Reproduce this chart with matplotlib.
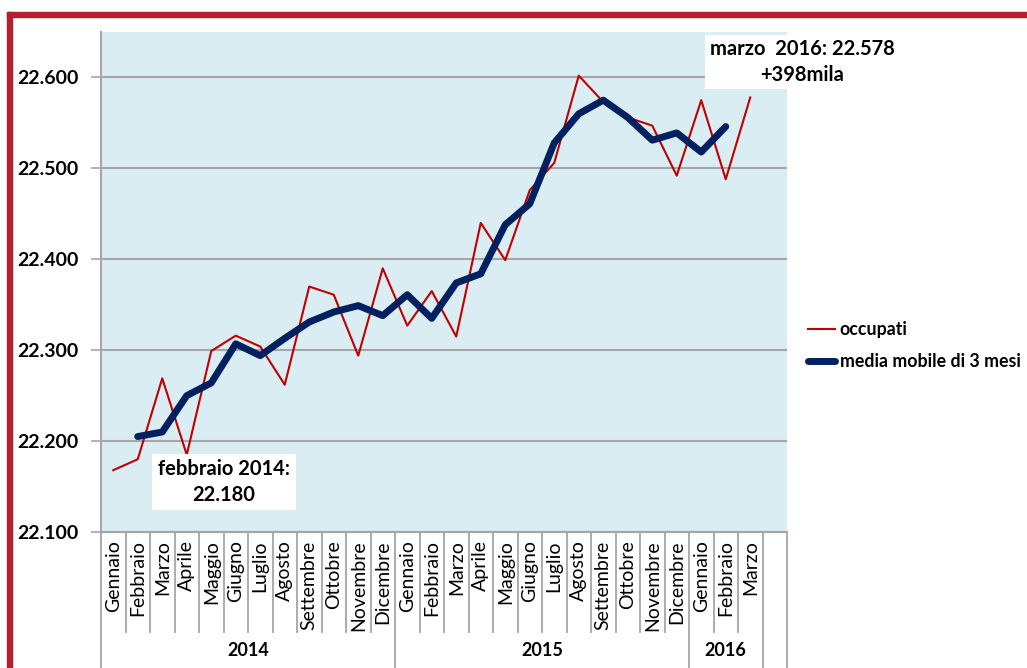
import numpy as np
import matplotlib
matplotlib.use("Agg")
import matplotlib.pyplot as plt
from matplotlib.lines import Line2D
from matplotlib.patches import Rectangle
import matplotlib.transforms as mtransforms

plt.rcParams["font.family"] = ["Lato", "DejaVu Sans"]

# Data
mesi = [
    "Gennaio", "Febbraio", "Marzo", "Aprile", "Maggio", "Giugno", "Luglio",
    "Agosto", "Settembre", "Ottobre", "Novembre", "Dicembre",
    "Gennaio", "Febbraio", "Marzo", "Aprile", "Maggio", "Giugno", "Luglio",
    "Agosto", "Settembre", "Ottobre", "Novembre", "Dicembre",
    "Gennaio", "Febbraio", "Marzo",
]
anni = ["2014", "2015", "2016"]
mesi_per_anno = [12, 12, 3]

occupati = [
    22168, 22180, 22269, 22185, 22299, 22316, 22304, 22262, 22370, 22361,
    22294, 22390, 22327, 22365, 22315, 22440, 22399, 22476, 22506, 22602,
    22573, 22556, 22547, 22492, 22575, 22488, 22578,
]
media_mobile = [
    np.nan, 22205, 22210, 22250, 22264, 22307, 22294, 22313, 22331, 22342,
    22349, 22338, 22361, 22335, 22374, 22384, 22438, 22461, 22528, 22560,
    22575, 22556, 22531, 22539, 22518, 22546, np.nan,
]
y_ticks = [22100, 22200, 22300, 22400, 22500, 22600]

RED = "#C00000"
NAVY = "#002060"
BG = "#DAEDF3"
GRID = "#A6A6A6"

fig = plt.figure(figsize=(10.27, 6.68), dpi=100)
ax = fig.add_axes([101 / 1027, 136 / 668, 686 / 1027, 500 / 668])
ax.set_facecolor(BG)

x = np.arange(len(mesi))
n_slots = len(mesi) + 1  # empty slot at the end
ax.set_xlim(-0.5, n_slots - 0.5)
ax.set_ylim(22100, 22650)

ax.set_yticks(y_ticks)
ax.set_yticklabels([f"{v:,}".replace(",", ".") for v in y_ticks],
                   fontsize=14, fontweight="bold")
ax.yaxis.grid(True, color=GRID, linewidth=1.5)
ax.set_axisbelow(True)
ax.tick_params(axis="y", length=7, width=1.2, color=GRID, pad=9)

ax.set_xticks(x)
ax.set_xticklabels(mesi, rotation=90, fontsize=14, va="top")
ax.tick_params(axis="x", length=0, pad=6)

for s in ["top", "right"]:
    ax.spines[s].set_visible(False)
ax.spines["left"].set_color(GRID)
ax.spines["left"].set_linewidth(1.5)
ax.spines["bottom"].set_color(GRID)
ax.spines["bottom"].set_linewidth(1.5)

ax.plot(x, occupati, color=RED, linewidth=1.5, label="occupati", zorder=3)
ax.plot(x, media_mobile, color=NAVY, linewidth=5, solid_capstyle="round",
        label="media mobile di 3 mesi", zorder=4)

# category table below the axis
trans = mtransforms.blended_transform_factory(ax.transData, ax.transAxes)
year_edges = np.cumsum([0] + mesi_per_anno)
for i in range(n_slots + 1):
    xb = i - 0.5
    full = i in year_edges or i >= len(mesi)
    y_end = -0.272 if full else -0.2
    ax.add_line(Line2D([xb, xb], [0, y_end], transform=trans, color=GRID,
                       linewidth=1.3, clip_on=False))
for k, anno in enumerate(anni):
    centre = (year_edges[k] + year_edges[k + 1] - 1) / 2
    ax.text(centre, -0.236, anno, transform=trans, ha="center", va="center",
            fontsize=13, fontweight="bold")

# annotations
ax.text(4.52, 22155, "febbraio 2014:\n22.180", ha="center", va="center",
        fontsize=14.5, fontweight="bold", linespacing=1.35,
        bbox=dict(facecolor="white", edgecolor="none", pad=4), zorder=5)
fig.text(0.781, 0.907, "marzo  2016: 22.578\n+398mila", ha="center",
         va="center", fontsize=14.5, fontweight="bold", linespacing=1.35,
         bbox=dict(facecolor="white", edgecolor="none", pad=3), zorder=5)

leg = fig.legend(loc="upper left", bbox_to_anchor=(808 / 1027, 0.519),
                 frameon=False, fontsize=12.8, borderaxespad=0, borderpad=0,
                 handlelength=1.5, handletextpad=0.28, labelspacing=0.85)
for t in leg.get_texts():
    t.set_fontweight("bold")

# red frame
fig.add_artist(Rectangle((7 / 1027, 0), 5 / 1027, 656 / 668,
                         transform=fig.transFigure, color="#B31F2E", zorder=10))
fig.add_artist(Rectangle((7 / 1027, 651 / 668), 1020 / 1027, 5 / 668,
                         transform=fig.transFigure, color="#B31F2E", zorder=10))

fig.savefig("out.png", dpi=100)
